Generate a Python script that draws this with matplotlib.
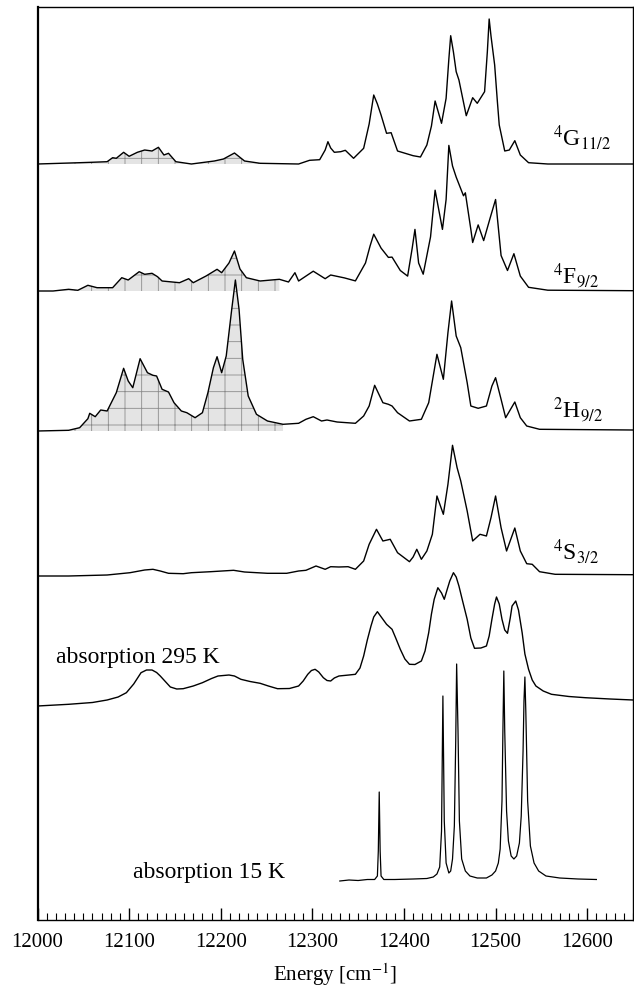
import numpy as np
import matplotlib
matplotlib.use("Agg")
import matplotlib.pyplot as plt

plt.rcParams['font.family'] = ['Liberation Serif', 'DejaVu Serif']
plt.rcParams['mathtext.fontset'] = 'stix'
plt.rcParams['hatch.linewidth'] = 0.6

# ---- data (energy in cm^-1, intensity in arbitrary units) ----
e_4g = [12000, 12046, 12059, 12076, 12082, 12086, 12094, 12100, 12109, 12117,
        12125, 12132, 12138, 12143, 12151, 12168, 12193, 12203, 12215, 12226,
        12243, 12285, 12297, 12308, 12314, 12317, 12320, 12324, 12331, 12336,
        12345, 12356, 12362, 12367, 12371, 12375, 12381, 12386, 12393, 12410,
        12418, 12425, 12430, 12434, 12441, 12446, 12449, 12451, 12454, 12457,
        12460, 12468, 12475, 12480, 12488, 12491, 12493, 12495, 12499, 12502,
        12504, 12510, 12515, 12521, 12527, 12536, 12557, 12650]
i_4g = [0, 1.3, 1.7, 2.3, 6.3, 5.7, 11.7, 7.7, 11.7, 14,
        13, 16.7, 9, 10.7, 2.3, 0, 3, 5, 11, 3,
        0.7, 0, 3.7, 4.3, 14, 22.3, 16, 11.7, 12.3, 13.7,
        5.7, 15.7, 40, 69, 60, 49, 30.7, 31.3, 13, 8.3,
        7, 19, 38, 63, 40.7, 65.7, 105, 128.3, 112, 92.3,
        84, 48.3, 66.3, 60.7, 72.3, 112, 145, 128, 99, 62,
        39, 13, 14, 23.3, 9, 1.3, 0, 0]

e_4f = [12000, 12017, 12034, 12044, 12055, 12065, 12082, 12092, 12099, 12111,
        12117, 12125, 12131, 12136, 12155, 12165, 12170, 12184, 12196, 12201,
        12209, 12215, 12221, 12228, 12243, 12264, 12274, 12281, 12285, 12301,
        12314, 12320, 12335, 12347, 12358, 12363, 12367, 12375, 12383, 12387,
        12396, 12404, 12409, 12412, 12416, 12421, 12429, 12434, 12442, 12446,
        12449, 12453, 12457, 12465, 12467, 12473, 12475, 12481, 12487, 12494,
        12500, 12506, 12513, 12520, 12527, 12536, 12557, 12650]
i_4f = [0, 0, 1.7, 0.7, 5.7, 3.3, 3.3, 13.3, 11, 19.3,
        16.7, 17.7, 14.3, 10, 8.3, 12.3, 8.3, 15, 21.7, 18.3,
        28, 40, 22, 13.3, 10, 11.7, 9, 18.3, 10, 19.8,
        12.3, 16, 13.1, 10.1, 28, 45, 56.8, 42.9, 33.6, 33.9,
        20.5, 14.9, 42.9, 61.6, 28, 16.8, 54.1, 100.8, 61.6, 91.5,
        145.6, 125, 113.9, 95.2, 98.2, 61.6, 48.5, 66.1, 50.4, 72.8,
        91.5, 35.5, 20.5, 37.3, 14.9, 3.7, 0.8, 0.3]

e_2h = [12000, 12034, 12046, 12055, 12057, 12063, 12069, 12076, 12086, 12094,
        12099, 12104, 12112, 12120, 12126, 12130, 12136, 12143, 12149, 12157,
        12163, 12172, 12180, 12186, 12192, 12196, 12201, 12206, 12212, 12216,
        12220, 12224, 12230, 12239, 12251, 12268, 12285, 12293, 12301, 12310,
        12316, 12327, 12347, 12356, 12362, 12368, 12377, 12383, 12387, 12393,
        12406, 12419, 12427, 12436, 12443, 12448, 12452, 12457, 12462, 12469,
        12473, 12481, 12490, 12496, 12500, 12506, 12511, 12521, 12527, 12534,
        12548, 12650]
i_2h = [0, 0.7, 3.3, 12.3, 17.7, 14.3, 21, 20, 38.3, 62.7,
        50, 43.3, 72.3, 58.3, 55.7, 55, 41.7, 39, 28.3, 20,
        18.3, 13.3, 18.3, 38.3, 63.3, 74.3, 58.3, 75, 121.7, 151,
        121.7, 71.7, 35, 16.7, 10, 6.7, 7.7, 11.7, 14.3, 10,
        11, 9, 7.7, 15, 25, 45.7, 28.3, 26.7, 25, 18.3,
        10, 11.7, 28.3, 76.7, 51.7, 98.3, 130, 95, 83.3, 48.3,
        25, 22.7, 25, 45, 53.3, 31.7, 13.3, 29, 13.3, 5,
        1.7, 1]

e_4s = [12000, 12034, 12076, 12101, 12117, 12126, 12134, 12143, 12159, 12168,
        12189, 12214, 12226, 12251, 12272, 12285, 12293, 12304, 12314, 12320,
        12329, 12339, 12347, 12356, 12362, 12370, 12377, 12385, 12393, 12406,
        12410, 12414, 12419, 12425, 12431, 12436, 12443, 12448, 12453, 12458,
        12462, 12469, 12475, 12483, 12490, 12495, 12500, 12506, 12512, 12521,
        12527, 12534, 12540, 12548, 12565, 12650]
i_4s = [0, 0, 1, 3.3, 6, 6.7, 5, 2.7, 2.3, 3.3,
        4.3, 5.7, 4, 2.7, 2.7, 5, 5.7, 10, 6.7, 9.3,
        9, 9.3, 6.7, 15, 31.7, 46.7, 35, 36.7, 23.3, 14.3,
        19, 26.7, 16.7, 25, 41.7, 80, 61.7, 91.7, 130.7, 108.3,
        95, 65, 35, 41.7, 40, 58.3, 80, 48.3, 25, 48,
        25, 12.3, 11.7, 4.3, 1.7, 1.3]

e_295 = [12000, 12034, 12060, 12076, 12088, 12097, 12105, 12113, 12119, 12125,
         12130, 12134, 12140, 12145, 12152, 12159, 12170, 12180, 12190, 12197,
         12209, 12215, 12222, 12232, 12243, 12252, 12262, 12275, 12285, 12290,
         12295, 12299, 12303, 12307, 12312, 12316, 12320, 12324, 12329, 12340,
         12347, 12352, 12356, 12360, 12364, 12367, 12371, 12376, 12381, 12387,
         12391, 12396, 12401, 12406, 12412, 12419, 12423, 12427, 12430, 12433,
         12437, 12441, 12444, 12447, 12450, 12454, 12457, 12460, 12464, 12469,
         12473, 12477, 12484, 12490, 12493, 12496, 12499, 12501, 12504, 12507,
         12510, 12513, 12516, 12518, 12522, 12525, 12529, 12532, 12536, 12540,
         12544, 12552, 12561, 12580, 12598, 12625, 12650]
i_295 = [0, 1.7, 3.5, 6, 9, 13.3, 22, 33.3, 36, 36,
         33.5, 30, 24, 19, 17, 17.3, 20, 23.3, 27.5, 30,
         31, 30, 26.7, 24.5, 22.7, 20, 17.3, 17.5, 20, 25,
         31.7, 35.5, 36.7, 34, 28.3, 25.5, 25, 28, 30, 31,
         31.7, 38, 50, 66, 80, 89, 94.3, 88, 81.7, 76.7,
         68, 56.7, 47, 41.7, 41.5, 45, 55, 73.3, 92, 106.7,
         118.3, 113, 106.7, 116, 125, 133.3, 129, 120, 105, 86.7,
         68, 57.7, 58, 60, 70, 86.7, 102, 109, 102, 86.7,
         76, 72.7, 88, 100, 105, 96, 73.3, 52, 36.7, 26,
         20, 15, 11.7, 9.5, 8.3, 7, 6]

e_15 = [12330, 12340, 12350, 12360, 12368, 12371, 12372, 12373, 12374, 12375,
        12378, 12390, 12410, 12425, 12432, 12436, 12439, 12441, 12442.5, 12444,
        12446, 12449, 12451, 12453, 12455, 12456.5, 12457.5, 12459, 12460.5, 12463,
        12467, 12472, 12480, 12490, 12496, 12500, 12503, 12505, 12507, 12508,
        12509, 12510, 12512, 12514, 12517, 12520, 12523, 12526, 12528, 12530,
        12531, 12532, 12533, 12535, 12538, 12542, 12547, 12555, 12570, 12590,
        12610]
i_15 = [0, 1, 0.5, 1.5, 1.5, 5, 30, 89, 30, 5,
        1.5, 1.5, 2, 2.5, 4, 7, 14, 50, 185, 60,
        18, 8, 10, 22, 55, 140, 217, 150, 60, 22,
        10, 5, 3, 3, 6, 10, 18, 32, 80, 150,
        210, 150, 70, 40, 25, 22, 25, 38, 65, 130,
        180, 204, 170, 80, 35, 18, 10, 5, 3, 2,
        1.5]

labels = [r'$^{4}$G$_{11/2}$', r'$^{4}$F$_{9/2}$', r'$^{2}$H$_{9/2}$', r'$^{4}$S$_{3/2}$']
emission = [(e_4g, i_4g), (e_4f, i_4f), (e_2h, i_2h), (e_4s, i_4s)]

# vertical stacking (axis units = pixels above the bottom spine)
offsets = [756, 629, 489, 344, 214, 39]
label_dy = [27, 16, 22, 25]
shade_limit = 12270

fig = plt.figure(figsize=(6.34, 9.87), dpi=100)
ax = fig.add_axes([37.5 / 634, 66 / 987, 1 - 38.5 / 634, 913 / 987])

for k, (e, y) in enumerate(emission):
    e = np.array(e, dtype=float)
    y = np.array(y, dtype=float) + offsets[k]
    ax.plot(e, y, color='black', lw=1.0)
    if k < 3:
        m = e <= shade_limit
        ax.fill_between(e[m], offsets[k], y[m], facecolor='#e4e4e4',
                        edgecolor='#8c8c8c', hatch='+', linewidth=0)
    ax.text(12563, offsets[k] + label_dy[k], labels[k], fontsize=17, va='center', ha='left')

ax.plot(e_295, np.array(i_295) + offsets[4], color='black', lw=1.0)
ax.text(12020, offsets[4] + 49, 'absorption 295 K', fontsize=17, va='center')

ax.plot(e_15, np.array(i_15) + offsets[5], color='black', lw=0.9)
ax.text(12270, offsets[5] + 9, 'absorption 15 K', fontsize=17, va='center', ha='right')

ax.set_xlim(12000, 12650)
ax.set_ylim(0, 913)
ax.set_xticks(np.arange(12000, 12601, 100))
ax.set_xticks(np.arange(12000, 12651, 10), minor=True)
ax.tick_params(axis='x', which='major', direction='in', length=9, width=1, labelsize=15, pad=9)
ax.tick_params(axis='x', which='minor', direction='in', length=5, width=0.8)
ax.set_yticks([])
ax.set_xlabel('Energy [cm$^{-1}$]', fontsize=15, labelpad=6)
for s in ax.spines.values():
    s.set_linewidth(1.0)
ax.spines['left'].set_linewidth(1.6)

fig.savefig('out.png', dpi=100)
